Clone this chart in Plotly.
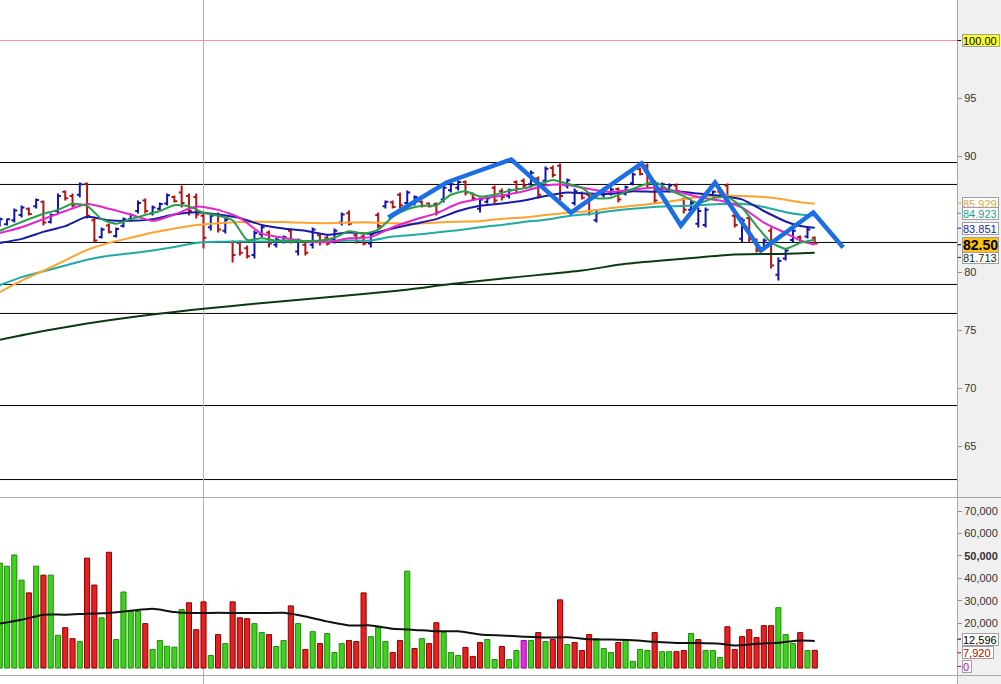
import plotly.graph_objects as go

# ---------------- data ----------------
open_ = [84.10, 84.15, 84.50, 84.95, 85.50, 85.70, 86.10, 84.35, 85.30, 86.95,
         86.60, 86.70, 87.65, 84.50, 83.05, 84.05, 83.15, 84.00, 84.60, 85.30,
         86.20, 85.10, 85.50, 85.95, 86.50, 86.90, 86.60, 86.50, 84.90, 83.90,
         84.95, 83.60, 82.60, 82.55, 82.10, 81.50, 83.30, 83.45, 82.40, 82.70,
         83.60, 81.80, 82.40, 82.40, 83.20, 83.00, 82.80, 84.30, 85.10, 83.20,
         83.10, 82.50, 84.95, 85.70, 86.05, 86.70, 86.00, 86.00, 86.10, 85.95,
         85.90, 86.30, 87.10, 87.30, 87.80, 86.80, 85.50, 86.10, 87.30, 87.00,
         86.60, 87.80, 87.90, 87.60, 88.10, 87.90, 89.00, 89.20, 87.50, 86.00,
         86.85, 86.70, 84.50, 86.70, 86.80, 87.20, 86.80, 87.70, 88.90, 89.20,
         87.70, 87.20, 87.05, 87.50, 86.30, 85.40, 84.20, 84.10, 86.60, 86.95,
         87.50, 84.90, 82.90, 84.70, 82.80, 82.10, 83.60, 79.80, 81.20, 82.80,
         83.05, 83.10, 83.00]
high = [84.74, 84.66, 85.52, 85.78, 85.60, 86.38, 86.21, 85.09, 86.81, 87.07,
        86.81, 87.76, 87.76, 84.74, 83.88, 84.22, 83.88, 84.74, 85.09, 86.21,
        86.38, 85.78, 86.03, 86.81, 86.64, 87.50, 86.81, 86.81, 85.09, 85.09,
        85.17, 84.74, 82.76, 82.76, 82.33, 83.62, 84.05, 83.62, 83.02, 83.19,
        83.79, 82.93, 82.59, 83.88, 83.36, 83.19, 83.79, 85.17, 85.34, 83.36,
        83.28, 83.45, 85.17, 86.21, 86.21, 86.90, 87.07, 86.64, 86.21, 86.03,
        86.03, 87.50, 87.76, 87.93, 87.93, 86.90, 86.47, 86.47, 87.50, 87.24,
        87.24, 87.93, 88.10, 88.79, 88.28, 89.14, 89.22, 89.40, 88.10, 87.24,
        86.98, 86.90, 85.34, 87.33, 87.33, 87.33, 87.50, 88.62, 89.05, 89.40,
        87.93, 87.76, 87.67, 87.67, 86.47, 86.21, 85.60, 85.60, 87.07, 87.07,
        87.67, 85.09, 84.74, 84.91, 82.93, 82.93, 83.88, 81.29, 82.07, 83.79,
        83.19, 83.88, 83.10]
low = [83.97, 84.05, 84.31, 84.74, 84.91, 85.52, 84.05, 84.22, 85.09, 86.21,
       85.60, 86.47, 84.66, 82.59, 82.93, 83.36, 83.02, 83.88, 84.48, 85.09,
       85.09, 84.91, 85.34, 85.78, 86.03, 85.60, 84.91, 84.66, 82.07, 83.62,
       83.45, 83.36, 80.86, 81.47, 81.21, 81.21, 83.02, 82.16, 82.16, 82.50,
       82.50, 81.47, 81.47, 82.07, 82.33, 82.33, 82.50, 84.05, 84.05, 82.50,
       82.33, 82.16, 83.79, 85.52, 85.52, 85.52, 85.78, 85.78, 85.60, 85.60,
       84.91, 86.03, 86.90, 87.07, 86.64, 86.21, 85.17, 85.95, 85.95, 86.21,
       86.38, 86.90, 87.24, 87.33, 86.38, 87.67, 88.19, 86.21, 87.24, 85.78,
       86.29, 84.91, 84.31, 86.47, 86.64, 86.03, 86.64, 87.50, 88.36, 87.33,
       85.95, 87.07, 86.90, 86.81, 85.09, 85.17, 83.88, 83.88, 86.47, 86.47,
       86.38, 83.88, 82.59, 82.59, 81.72, 81.90, 80.34, 79.31, 81.03, 82.59,
       82.59, 82.93, 82.50]
close = [84.60, 84.60, 85.35, 85.60, 85.05, 86.25, 84.30, 84.95, 86.60, 86.40,
         85.80, 87.60, 84.90, 82.75, 83.70, 83.50, 83.75, 84.60, 84.95, 86.00,
         85.30, 85.60, 85.90, 86.65, 86.15, 86.00, 85.30, 85.00, 83.00, 84.90,
         83.70, 84.55, 81.50, 81.70, 81.40, 83.40, 83.90, 82.50, 82.85, 83.05,
         82.70, 82.75, 81.70, 83.70, 82.60, 82.50, 83.60, 85.00, 84.20, 82.70,
         82.50, 83.30, 84.00, 86.10, 85.65, 85.80, 86.90, 86.50, 85.75, 85.70,
         85.20, 87.30, 87.60, 87.80, 86.90, 86.40, 86.30, 86.40, 86.20, 86.50,
         87.10, 87.20, 87.50, 88.60, 86.70, 88.95, 88.40, 86.60, 87.95, 87.00,
         86.45, 85.30, 85.10, 87.20, 87.15, 86.30, 87.35, 88.45, 88.50, 87.60,
         86.20, 87.60, 87.50, 87.00, 85.40, 86.00, 85.30, 85.40, 86.95, 86.60,
         86.60, 84.10, 84.50, 82.90, 81.90, 82.75, 80.60, 81.00, 81.90, 83.60,
         82.70, 83.70, 82.50]
volume = [46800, 45400, 50400, 39200, 33500, 45400, 41400, 41400, 14600, 18000,
          13100, 11800, 49000, 37000, 22400, 51600, 12700, 33900, 25200, 25200,
          19800, 8300, 12300, 9700, 9300, 26100, 29100, 17100, 29500, 5600,
          14900, 10900, 29500, 22400, 22000, 19800, 15800, 14900, 9600, 12300,
          27700, 19800, 8300, 16200, 10900, 15400, 6900, 10900, 12300, 11800,
          33500, 14000, 18100, 11800, 6900, 12300, 43200, 8700, 13100, 10900,
          20200, 15800, 6900, 5600, 9200, 5200, 11400, 12700, 3800, 9600,
          3800, 7800, 12300, 12300, 15800, 11800, 12700, 30400, 10500, 11400,
          7800, 14900, 13100, 8700, 6900, 11400, 12300, 3000, 8300, 7800,
          15800, 7300, 7300, 7300, 7800, 15400, 12700, 7800, 7800, 4700,
          18400, 8300, 14000, 17100, 13600, 18900, 18900, 26900, 14900, 10900,
          15800, 7800, 7920]
volume_dir = ("ggggrgrggr" "rgrrgrgggg" "rgggggrrrg" "rgrrrggrgg" "rgrgrgggrr"
              "rgggrrgrgr" "rgggrrrggr" "ggmgrgrrgr" "rrgggrgggg" "rggrrgrggg"
              "rrrrrrrggg" "rgr")

ma_long_x = [0, 3, 6, 9, 12, 15, 18, 21, 24, 27, 30, 33, 36, 39, 42, 45, 48, 51, 54,
             57, 60, 63, 66, 69, 72, 75, 78, 81, 84, 87, 90, 93, 96, 99, 102, 105,
             108, 110, 112]
ma_orange = [78.30, 79.30, 80.15, 81.05, 81.95, 82.55, 83.00, 83.45, 83.80, 84.10,
             84.25, 84.35, 84.37, 84.35, 84.28, 84.25, 84.30, 84.32, 84.25, 84.20,
             84.30, 84.38, 84.42, 84.63, 84.75, 84.95, 85.15, 85.30, 85.55, 85.75,
             85.95, 86.20, 86.50, 86.62, 86.60, 86.50, 86.27, 86.06, 85.93]
ma_teal = [78.90, 79.60, 80.10, 80.60, 81.10, 81.45, 81.65, 81.90, 82.20, 82.55,
           82.65, 82.67, 82.68, 82.68, 82.68, 82.70, 82.75, 82.76, 83.10, 83.25,
           83.45, 83.65, 83.90, 84.10, 84.35, 84.55, 84.85, 85.05, 85.30, 85.50,
           85.65, 85.72, 85.80, 85.90, 85.92, 85.65, 85.20, 85.00, 84.92]
ma_blue = [82.55, 82.90, 83.50, 84.00, 84.80, 84.50, 84.45, 84.60, 85.00, 85.20,
           85.00, 84.70, 84.10, 83.80, 83.60, 83.25, 83.45, 83.35, 83.80, 84.20,
           84.60, 85.30, 85.75, 85.95, 86.20, 86.60, 86.90, 86.80, 86.78, 87.00,
           86.95, 87.00, 86.80, 86.60, 86.30, 85.30, 84.40, 84.00, 83.85]
ma_magenta = [83.40, 83.90, 84.60, 85.30, 85.90, 85.50, 85.00, 84.45, 85.00, 85.68,
              85.40, 84.70, 83.35, 83.00, 82.70, 82.62, 82.95, 83.05, 83.90, 84.55,
              85.10, 85.95, 86.35, 86.64, 87.00, 87.50, 87.55, 87.20, 86.95, 87.15,
              87.30, 87.00, 86.50, 86.20, 85.60, 84.30, 83.40, 82.76, 82.39]

ma_green_x = list(range(0, 113, 2))
ma_green = [83.60, 84.10, 84.60, 85.06, 85.40, 85.92, 85.75, 84.60, 84.20, 84.60,
            84.95, 85.30, 85.80, 85.70, 85.15, 84.90, 84.50, 82.80, 82.95, 82.76,
            82.76, 82.72, 82.76, 83.00, 83.55, 83.35, 83.70, 84.80, 85.45, 85.75,
            85.80, 86.70, 87.00, 86.55, 86.70, 87.05, 87.25, 87.60, 87.98, 87.65,
            87.30, 86.40, 86.45, 86.95, 87.45, 87.80, 87.10, 86.60, 85.95, 86.40,
            86.50, 85.60, 84.00, 82.60, 82.05, 82.55, 82.82]

ma200_x = [0, 6, 12, 18, 24, 28, 35, 45, 55, 62, 71, 80, 86, 91, 96, 101, 107, 112]
ma200 = [74.20, 74.95, 75.60, 76.15, 76.60, 76.87, 77.30, 77.87, 78.45, 79.00,
         79.60, 80.17, 80.75, 81.03, 81.30, 81.55, 81.60, 81.71]

vol_ma_x = [0, 3, 6, 9, 12, 15, 18, 21, 24, 27, 30, 33, 36, 39, 42, 45, 48, 51, 54,
            57, 60, 63, 66, 69, 72, 75, 78, 81, 84, 87, 90, 93, 96, 99, 101, 104,
            107, 110, 112]
vol_ma = [19800, 21500, 23800, 23800, 24200, 24500, 25500, 26400, 25000, 24500,
          24600, 24500, 24500, 24600, 23000, 20800, 19000, 19000, 17500, 17000,
          16400, 16400, 15000, 14500, 14000, 13600, 13700, 12800, 12700, 12400,
          11700, 11200, 11200, 10800, 10000, 10800, 11300, 12300, 12100]

zigzag_x = [53.4, 61.4, 65.2, 70.3, 78.5, 88.2, 93.6, 98.3, 104.6, 111.8, 115.9]
zigzag_y = [84.74, 87.76, 88.62, 89.74, 85.17, 89.40, 84.05, 87.76, 81.90, 85.17, 82.16]

level_lines = [89.48, 87.59, 82.59, 78.97, 76.47, 68.53, 62.15]
marker_bar = 28
price_ticks = [65, 70, 75, 80, 90, 95]
vol_ticks = [20000, 30000, 40000, 50000, 60000, 70000]
vol_tick_text = ["20,000", "30,000", "40,000", "<b>50,000</b>", "60,000", "70,000"]

# ---------------- figure ----------------
W, H = 1001, 684
PLOT_W = 957
FONT = "Liberation Sans, Arial, sans-serif"
idx = list(range(len(close)))

price_dom = [1 - 497 / H, 1.0]
vol_dom = [1 - 675 / H, 1 - 498 / H]
xr = [0.034, 131.548]
yr_price = [60.646, 103.491]

fig = go.Figure()

fig.add_trace(go.Ohlc(
    x=idx, open=open_, high=high, low=low, close=close,
    increasing=dict(line=dict(color="#1414b4", width=2)),
    decreasing=dict(line=dict(color="#b41414", width=2)),
    tickwidth=0.4, xaxis="x", yaxis="y", hoverinfo="skip"))

def line(x, y, color, width=2, xa="x", ya="y"):
    fig.add_trace(go.Scatter(x=x, y=y, mode="lines", xaxis=xa, yaxis=ya,
                             line=dict(color=color, width=width, shape="spline", smoothing=0.6),
                             hoverinfo="skip"))

line(ma200_x, ma200, "#0c3a10")
line(ma_long_x, ma_teal, "#22aaa4")
line(ma_long_x, ma_orange, "#ffa22e")
line(ma_long_x, ma_blue, "#1a1aa6")
line(ma_long_x, ma_magenta, "#e424cc")
line(ma_green_x, ma_green, "#26a04a")

fig.add_trace(go.Scatter(x=zigzag_x, y=zigzag_y, mode="lines", xaxis="x", yaxis="y",
                         line=dict(color="#1c6ee4", width=4.5), hoverinfo="skip"))

fill_map = {"g": "#3fd21c", "r": "#e82020", "m": "#e828e8"}
edge_map = {"g": "#1e8c0a", "r": "#8a0000", "m": "#a000a0"}
fig.add_trace(go.Bar(x=idx, y=volume, width=0.7, xaxis="x2", yaxis="y2",
                     marker=dict(color=[fill_map[c] for c in volume_dir],
                                 line=dict(color=[edge_map[c] for c in volume_dir], width=1)),
                     hoverinfo="skip"))
line(vol_ma_x, vol_ma, "#111111", 2, "x2", "y2")

tickfont = dict(family=FONT, size=11, color="#333333")
fig.update_layout(
    width=W, height=H, margin=dict(l=0, r=W - PLOT_W, t=0, b=0, autoexpand=False),
    plot_bgcolor="white", paper_bgcolor="white", showlegend=False,
    xaxis=dict(domain=[0, 1], range=xr, anchor="y", visible=False,
               rangeslider=dict(visible=False)),
    xaxis2=dict(domain=[0, 1], range=xr, anchor="y2", visible=False, matches="x"),
    yaxis=dict(domain=price_dom, range=yr_price, side="right", anchor="x",
               tickvals=price_ticks, ticks="outside", ticklen=4, tickcolor="#909090",
               showgrid=False, zeroline=False, showline=False, tickfont=tickfont,
               automargin=False),
    yaxis2=dict(domain=vol_dom, range=[-3100, 75800], side="right", anchor="x2",
                tickvals=vol_ticks, ticktext=vol_tick_text, ticks="outside", ticklen=4,
                tickcolor="#909090", showgrid=False, zeroline=False, showline=False,
                tickfont=tickfont, automargin=False),
)

shapes = []
XR = W / PLOT_W
X_EDGE = 1 + 0.5 / PLOT_W
# right axis panel
shapes.append(dict(type="rect", xref="paper", yref="paper", x0=1, x1=XR, y0=0, y1=1,
                   fillcolor="#f0f0f0", line=dict(width=0), layer="below"))
shapes.append(dict(type="line", xref="paper", yref="paper", x0=X_EDGE, x1=X_EDGE, y0=0, y1=1,
                   line=dict(color="#a8a8a8", width=1)))
# pane separators
for ypx in (497.5, 675.5):
    shapes.append(dict(type="line", xref="paper", yref="paper", x0=0, x1=XR,
                       y0=1 - ypx / H, y1=1 - ypx / H, line=dict(color="#a8a8a8", width=1)))
# level lines
for lv in level_lines:
    shapes.append(dict(type="line", xref="paper", yref="y", x0=0, x1=1, y0=lv, y1=lv,
                       line=dict(color="#000000", width=1), layer="below"))
shapes.append(dict(type="line", xref="paper", yref="y", x0=0, x1=1, y0=100, y1=100,
                   line=dict(color="#f09898", width=1), layer="below"))
shapes.append(dict(type="line", xref="x", yref="paper", x0=marker_bar, x1=marker_bar,
                   y0=0, y1=1, line=dict(color="#f09898", width=1), layer="below"))

annotations = []
def box(text, yval, yref, color, bg, w, h=11, size=11, bold=False, border="#a0a0a0"):
    t = f"<b>{text}</b>" if bold else text
    annotations.append(dict(text=t, xref="paper", yref=yref, x=961.5 / PLOT_W, y=yval,
                            xanchor="left", yanchor="middle", showarrow=False,
                            width=w, height=h, align="left", valign="middle",
                            font=dict(family=FONT, size=size, color=color),
                            bgcolor=bg, bordercolor=border, borderwidth=1, borderpad=0))
    shapes.append(dict(type="line", xref="paper", yref=yref, x0=X_EDGE, x1=961 / PLOT_W,
                       y0=yval, y1=yval, line=dict(color=color, width=1)))

box("100.00", 100.0, "y", "#000000", "#ffff22", 36)
box("85.929", 85.97, "y", "#f0a030", "#ffffff", 35)
box("84.923", 85.10, "y", "#20a0a0", "#ffffff", 35)
box("83.851", 83.82, "y", "#1a1aa6", "#ffffff", 35)
box("81.713", 81.30, "y", "#1a2a1a", "#ffffff", 35)
box("82.50", 82.39, "y", "#000000", "#ffc20a", 35, h=14, size=14, bold=True)
box("12,596", 12900, "y2", "#000000", "#ffffff", 35)
box("7,920", 6800, "y2", "#c00000", "#ffffff", 30)
box("0", 700, "y2", "#c000c0", "#ffffff", 8)

fig.update_layout(shapes=shapes, annotations=annotations)
fig.write_html("out.html", config={"displayModeBar": False, "staticPlot": True},
               post_script="document.body.style.margin='0';document.body.style.overflow='hidden';")
